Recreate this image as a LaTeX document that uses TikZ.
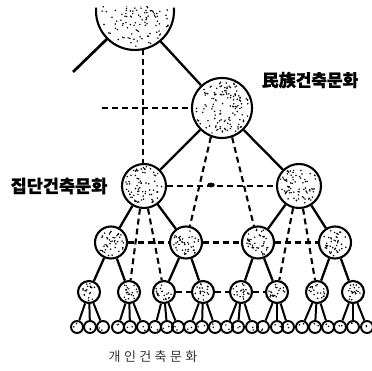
\documentclass[tikz,border=0pt]{standalone}
\usepackage{fontspec}
\newfontfamily\krfont{Noto Sans CJK KR}
\newfontfamily\krthin{Noto Sans CJK KR}[LetterSpace=26]
\usetikzlibrary{calc}

% random stipple inside a disk: centre x, centre y, radius, number of dots
\newcommand\stippledisk[4]{%
  \foreach \k in {1,...,#4}{%
    \pgfmathsetmacro\aa{360*rnd}%
    \pgfmathsetmacro\dd{(#3-2.5)*sqrt(rnd)}%
    \fill ({#1+\dd*cos(\aa)},{#2+\dd*sin(\aa)}) circle (0.85pt);
  }}

\begin{document}
\begin{tikzpicture}[x=1pt,y=1pt,
  ball/.style={circle, draw, line width=2.1pt, inner sep=0pt, minimum size=#1},
  link/.style={line width=2.3pt},
  dlink/.style={line width=2.1pt, dash pattern=on 6pt off 4pt},
  lab/.style={font=\krfont\bfseries\addfontfeature{FakeBold=1.2}\fontsize{17}{17}\selectfont, inner sep=0pt},
  lowlab/.style={font=\krthin\fontsize{13}{13}\selectfont, text=black!80, inner sep=0pt}]
\useasboundingbox (0,0) rectangle (372,371);
\pgfmathsetseed{2718}

% ---- top (national) circle, cut by the upper edge
\coordinate (top) at (135,360);
\draw[line width=2.1pt] ($(top)+(175:39)$) arc (175:365:39);
\begin{scope}
  \clip (90,300) rectangle (180,364);
  \stippledisk{135}{360}{39}{170}
\end{scope}
\coordinate (tL) at ($(top)+(225:39)$);
\coordinate (tR) at ($(top)+(-50:39)$);
\coordinate (tB) at ($(top)+(-78.2:39)$);
\coordinate (tEnd) at (73,299);

% ---- level 1
\node[ball=60pt] (L1) at (222,263) {};
\stippledisk{222}{263}{30}{130}

% ---- level 2
\node[ball=44pt] (L2a) at (144,185) {};
\node[ball=44pt] (L2b) at (299,185) {};
\stippledisk{144}{185}{22}{75}
\stippledisk{299}{185}{22}{75}

% ---- level 3
\foreach \n/\x in {a/111, b/186, c/258, d/335}{
  \node[ball=32pt] (L3\n) at (\x,128.5) {};
  \stippledisk{\x}{128.5}{16}{42}
}

% ---- level 4
\foreach \n/\x in {a/89, b/129, c/164, d/203, e/241, f/277, g/317, h/353}{
  \node[ball=22pt] (L4\n) at (\x,79) {};
  \stippledisk{\x}{79}{11}{20}
}

% ---- level 5 (individual), three under each level-4 circle
\foreach \n/\x [count=\i] in {a/77, a/90, a/103, b/118, b/130, b/143, c/155, c/167,
    c/178, d/190, d/202, d/215, e/227, e/238, e/252, f/263, f/277, f/288,
    g/302, g/315, g/328, h/340, h/353, h/367}{
  \node[ball=12pt, line width=1.9pt] (L5-\i) at (\x,44) {};
  \stippledisk{\x}{44}{6.5}{2}
  \draw[link, line width=2pt] (L4\n) -- (L5-\i);
}

% ---- solid hierarchy links
\draw[link, line width=2.7pt] (tL) -- (tEnd);
\draw[link] (tR) -- (L1);
\draw[link] (L1) -- (L2a);
\draw[link] (L1) -- (L2b);
\draw[link] (L2a) -- (L3a);
\draw[link] (L2a) -- (L3b);
\draw[link] (L2b) -- (L3c);
\draw[link] (L2b) -- (L3d);
\draw[link] (L3a) -- (L4a);
\draw[link] (L3a) -- (L4b);
\draw[link] (L3b) -- (L4c);
\draw[link] (L3b) -- (L4d);
\draw[link] (L3c) -- (L4e);
\draw[link] (L3c) -- (L4f);
\draw[link] (L3d) -- (L4g);
\draw[link] (L3d) -- (L4h);

% ---- dashed cross links
\coordinate (hL) at (102,263);
\draw[dlink] (tB) -- (tB |- L2a.north);
\draw[dlink] (hL) -- (L1.west);
\draw[dlink] (L1.-111) -- (L3b);
\draw[dlink] (L1.-71) -- (L3c);
\draw[dlink] (L2a) -- (L2b);
\fill (211,186) ellipse (3.8pt and 2.4pt);
\draw[dlink] (L2a.-100) -- (L4b);
\draw[dlink] (L2a.-80) -- (L4c);
\draw[dlink] (L2b.-105) -- (L4f);
\draw[dlink] (L2b.-80) -- (L4g);
\draw[dlink] (L3a) -- (L3b);
\draw[dlink] (L3b) -- (L3c);
\draw[dlink] (L3c) -- (L3d);
\draw[dlink] (L4c) -- (L4d);
\draw[dlink] (L4d) -- (L4e);
\draw[dlink] (L4e) -- (L4f);

% ---- labels
\node[lab] (natl) at (310,291) {民族건축문화};
\node[lab, font=\krfont\bfseries\addfontfeature{FakeBold=1.2}\fontsize{17.5}{17.5}\selectfont] (grp) at (59,185) {집단건축문화};
\node[lowlab] (indv) at (153,14) {개인건축문화};
\end{tikzpicture}
\end{document}
